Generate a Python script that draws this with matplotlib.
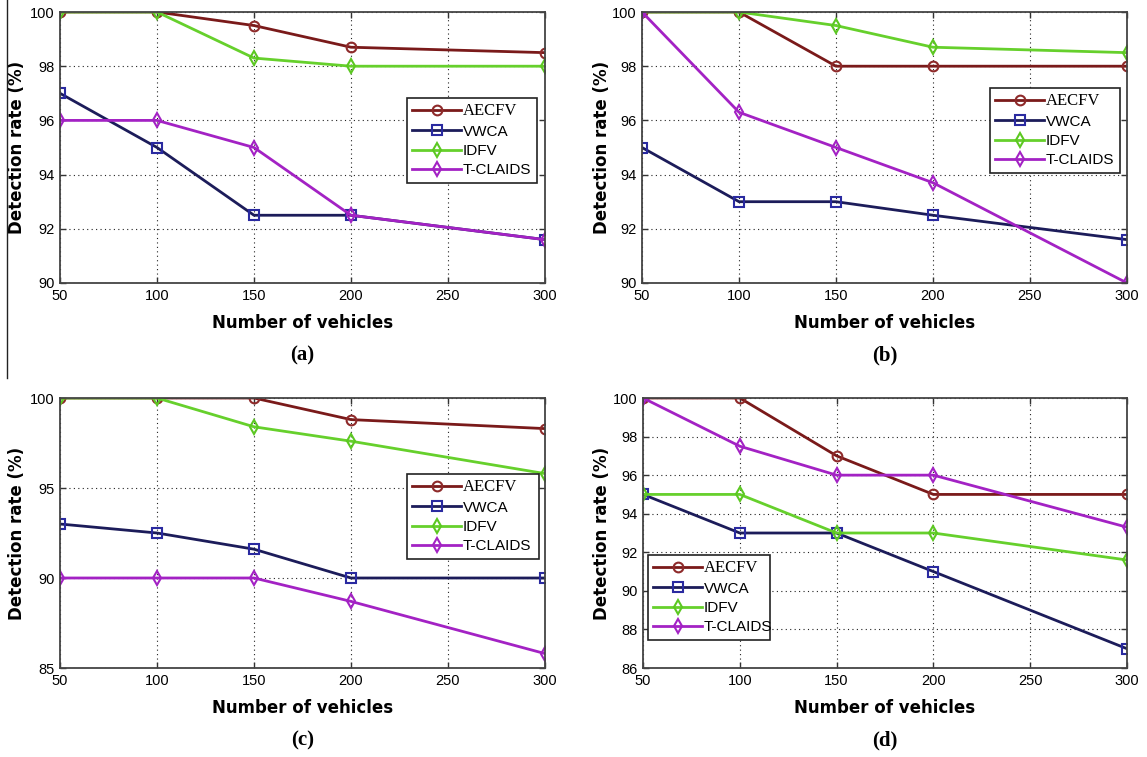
import matplotlib.pyplot as plt
from matplotlib.lines import Line2D

# ---- data ----
vehicles = [50, 100, 150, 200, 300]
series_names = ["AECFV", "VWCA", "IDFV", "T-CLAIDS"]

aecfv_a = [100, 100, 99.5, 98.7, 98.5]
vwca_a = [97, 95, 92.5, 92.5, 91.6]
idfv_a = [100, 100, 98.3, 98.0, 98.0]
tclaids_a = [96, 96, 95, 92.5, 91.6]

aecfv_b = [100, 100, 98, 98, 98]
vwca_b = [95, 93, 93, 92.5, 91.6]
idfv_b = [100, 100, 99.5, 98.7, 98.5]
tclaids_b = [100, 96.3, 95, 93.7, 90]

aecfv_c = [100, 100, 100, 98.8, 98.3]
vwca_c = [93, 92.5, 91.6, 90, 90]
idfv_c = [100, 100, 98.4, 97.6, 95.8]
tclaids_c = [90, 90, 90, 88.7, 85.8]

aecfv_d = [100, 100, 97, 95, 95]
vwca_d = [95, 93, 93, 91, 87]
idfv_d = [95, 95, 93, 93, 91.6]
tclaids_d = [100, 97.5, 96, 96, 93.3]

x_ticks = [50, 100, 150, 200, 250, 300]

# ---- styles ----
line_colors = ["#7a1a1a", "#1c1c5a", "#66d02c", "#a322c4"]
edge_colors = ["#8e2a2a", "#2a2aa0", "#5cc822", "#a322c4"]
markers = ["o", "s", "d", "d"]

W, H = 1147, 757
fig = plt.figure(figsize=(W / 100, H / 100), dpi=100)


def add_px_axes(l, t, r, b):
    return fig.add_axes([l / W, 1 - b / H, (r - l) / W, (b - t) / H])


def draw_panel(rect, data, ylim, yticks, legend_box, letter):
    ax = add_px_axes(*rect)
    for vals, name, lc, ec, m in zip(data, series_names, line_colors, edge_colors, markers):
        ax.plot(vehicles, vals, color=lc, lw=2.0, marker=m, ms=7,
                mec=ec, mfc="none", mew=1.5, label=name)
    ax.set_xlim(50, 300)
    ax.set_ylim(*ylim)
    ax.set_xticks(x_ticks)
    ax.set_yticks(yticks)
    ax.grid(True, color="#222222", linestyle=(0, (1, 3)), linewidth=0.8)
    ax.tick_params(direction="in", top=True, right=True, length=4, width=1,
                   color="#333333", labelsize=10.5, pad=4)
    for lab in ax.get_xticklabels() + ax.get_yticklabels():
        lab.set_family(["Liberation Sans Narrow", "Liberation Sans"])
    for sp in ax.spines.values():
        sp.set_color("#444444")
        sp.set_linewidth(1.3)

    l, t, r, b = rect
    ax.set_xlabel("Number of vehicles", fontsize=12, fontweight="bold",
                  family="DejaVu Sans")
    ax.xaxis.label.set_va("center")
    ax.xaxis.set_label_coords(0.5, -40 / (b - t))
    ax.set_ylabel("Detection rate (%)", fontsize=12, fontweight="bold",
                  family="DejaVu Sans")
    ax.yaxis.label.set_va("center")
    ax.yaxis.set_label_coords(-(l - 17 - (0 if l < 500 else 585)) / (r - l), 0.5)

    lx0, ly0, lx1, ly1 = legend_box
    leg = ax.legend(loc="upper left",
                    bbox_to_anchor=(lx0 / W, 1 - ly1 / H, (lx1 - lx0) / W, (ly1 - ly0) / H),
                    bbox_transform=fig.transFigure, mode="expand",
                    fancybox=False, framealpha=1, edgecolor="#222222",
                    handlelength=3.2, handletextpad=0.1, labelspacing=0.35,
                    borderpad=0.35, borderaxespad=0, fontsize=11)
    leg.get_frame().set_linewidth(1.2)
    for i, txt in enumerate(leg.get_texts()):
        if i == 0:
            txt.set_family("Liberation Serif")
            txt.set_fontsize(12)
        else:
            txt.set_family(["Liberation Sans Narrow", "Liberation Sans"])

    fig.text((l + r) / 2 / W, 1 - (b + 72) / H, letter, ha="center", va="center",
             fontsize=15, fontweight="bold", family="Liberation Serif")
    return ax


draw_panel((60, 12, 545, 283), [aecfv_a, vwca_a, idfv_a, tclaids_a],
           (90, 100), [90, 92, 94, 96, 98, 100], (407, 98, 537, 189), "(a)")
draw_panel((642, 12, 1127, 283), [aecfv_b, vwca_b, idfv_b, tclaids_b],
           (90, 100), [90, 92, 94, 96, 98, 100], (990, 88, 1120, 179), "(b)")
draw_panel((60, 398, 545, 668), [aecfv_c, vwca_c, idfv_c, tclaids_c],
           (85, 100), [85, 90, 95, 100], (407, 474, 539, 565), "(c)")
draw_panel((643, 398, 1127, 668), [aecfv_d, vwca_d, idfv_d, tclaids_d],
           (86, 100), [86, 88, 90, 92, 94, 96, 98, 100], (648, 555, 770, 648), "(d)")

# thin separator line at the left edge of panel (a)
fig.add_artist(Line2D([7 / W, 7 / W], [1, 1 - 378 / H], transform=fig.transFigure,
                      color="#222222", lw=1))

fig.savefig("out.png", dpi=100)
